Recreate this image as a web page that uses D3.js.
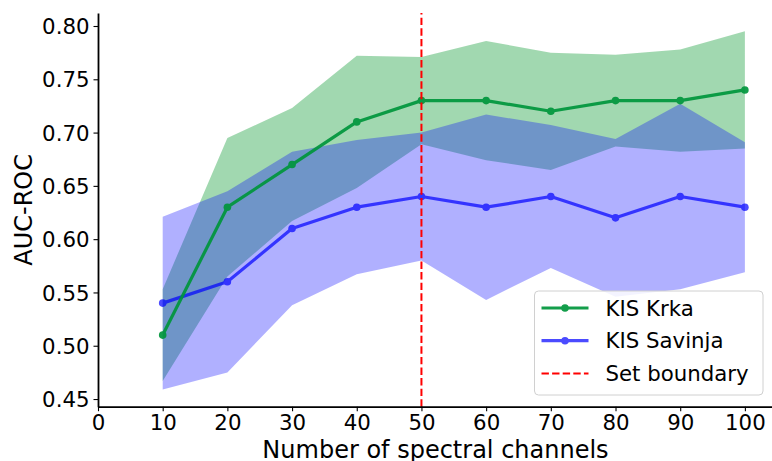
<!DOCTYPE html>
<html>
<head>
<meta charset="utf-8">
<script src="https://cdn.jsdelivr.net/npm/d3@7"></script>
<style>
  html, body { margin: 0; padding: 0; background: #fff; }
  svg { display: block; font-family: "DejaVu Sans", sans-serif; }
</style>
</head>
<body>
<svg id="chart" width="772" height="461"></svg>
<script>
// Number of spectral channels used
const channels = [10, 20, 30, 40, 50, 60, 70, 80, 90, 100];

// Mean AUC-ROC and its spread for each set
const krkaMean = [0.51, 0.63, 0.67, 0.71, 0.73, 0.73, 0.72, 0.73, 0.73, 0.74];
const krkaStd  = [0.043, 0.065, 0.053, 0.062, 0.041, 0.056, 0.055, 0.043, 0.048, 0.055];
const savinjaMean = [0.54, 0.56, 0.61, 0.63, 0.64, 0.63, 0.64, 0.62, 0.64, 0.63];
const savinjaStd  = [0.081, 0.085, 0.072, 0.063, 0.060, 0.087, 0.067, 0.074, 0.087, 0.061];

// Channel count where the set boundary lies
const boundary = 50;

const xTicks = [0, 10, 20, 30, 40, 50, 60, 70, 80, 90, 100];
const yTicks = [0.45, 0.50, 0.55, 0.60, 0.65, 0.70, 0.75, 0.80];

const svg = d3.select("#chart");

const plot = { left: 98, right: 774, top: 13, bottom: 406.7 };

const x = d3.scaleLinear().domain([0, 104.5]).range([plot.left, plot.right]);
const y = d3.scaleLinear().domain([0.4428, 0.8122]).range([plot.bottom, plot.top]);

const series = [
  { name: "KIS Krka", mean: krkaMean, std: krkaStd,
    fill: "rgb(0,150,40)", fillOpacity: 0.37, line: "rgb(0,150,60)", lineOpacity: 0.92 },
  { name: "KIS Savinja", mean: savinjaMean, std: savinjaStd,
    fill: "rgb(0,0,255)", fillOpacity: 0.31, line: "rgb(0,0,255)", lineOpacity: 0.7 }
];

const rows = s => channels.map((c, i) => ({ c, m: s.mean[i], sd: s.std[i] }));

const area = d3.area()
  .x(d => x(d.c))
  .y0(d => y(d.m - d.sd))
  .y1(d => y(d.m + d.sd));

const line = d3.line().x(d => x(d.c)).y(d => y(d.m));

// Shaded bands
series.forEach(s => {
  svg.append("path")
    .datum(rows(s))
    .attr("d", area)
    .attr("fill", s.fill)
    .attr("fill-opacity", s.fillOpacity)
    .attr("stroke", "none");
});

// Mean lines with markers (Savinja first so Krka sits on top)
[series[1], series[0]].forEach(s => {
  const g = svg.append("g").attr("opacity", s.lineOpacity);
  g.append("path")
    .datum(rows(s))
    .attr("d", line)
    .attr("fill", "none")
    .attr("stroke", s.line)
    .attr("stroke-width", 3.2)
    .attr("stroke-linejoin", "round");
  g.selectAll("circle")
    .data(rows(s))
    .join("circle")
    .attr("cx", d => x(d.c))
    .attr("cy", d => y(d.m))
    .attr("r", 3.8)
    .attr("fill", s.line);
});

// Set boundary marker
svg.append("line")
  .attr("x1", x(boundary)).attr("x2", x(boundary))
  .attr("y1", plot.bottom).attr("y2", plot.top)
  .attr("stroke", "#ff0000")
  .attr("stroke-width", 2)
  .attr("stroke-dasharray", "7.4,3.2");

// Axes
const xAxis = d3.axisBottom(x).tickValues(xTicks).tickFormat(d3.format("d"))
  .tickSizeInner(4.5).tickSizeOuter(0).tickPadding(4);
const yAxis = d3.axisLeft(y).tickValues(yTicks).tickFormat(d3.format(".2f"))
  .tickSizeInner(4.5).tickSizeOuter(0).tickPadding(4);

const gx = svg.append("g").attr("transform", `translate(0,${plot.bottom})`).call(xAxis);
const gy = svg.append("g").attr("transform", `translate(${plot.left},0)`).call(yAxis);

[gx, gy].forEach(g => {
  g.select(".domain").attr("stroke", "#000").attr("stroke-width", 1.8);
  g.selectAll(".tick line").attr("stroke", "#000").attr("stroke-width", 1.1);
  g.selectAll(".tick text")
    .attr("fill", "#000")
    .style("font-family", "DejaVu Sans")
    .style("font-size", "21.3px");
});
gx.selectAll(".tick text").attr("dy", "0.71em");
gy.selectAll(".tick text").attr("dy", "0.36em");

// Axis titles
svg.append("text")
  .attr("x", (plot.left + 772) / 2 + 0.5)
  .attr("y", 458)
  .attr("text-anchor", "middle")
  .style("font-size", "24px")
  .attr("fill", "#000")
  .text("Number of spectral channels");

svg.append("text")
  .attr("transform", `translate(32,${(plot.top + plot.bottom) / 2}) rotate(-90)`)
  .attr("text-anchor", "middle")
  .style("font-size", "24px")
  .attr("fill", "#000")
  .text("AUC-ROC");

// Legend
const legend = svg.append("g");
legend.append("rect")
  .attr("x", 534.5).attr("y", 291)
  .attr("width", 228.5).attr("height", 104)
  .attr("rx", 4).attr("ry", 4)
  .attr("fill", "#fff").attr("fill-opacity", 0.85)
  .attr("stroke", "#d0d0d0").attr("stroke-width", 1);

const entries = [
  { label: series[0].name, color: series[0].line, opacity: series[0].lineOpacity, kind: "line" },
  { label: series[1].name, color: series[1].line, opacity: series[1].lineOpacity, kind: "line" },
  { label: "Set boundary", color: "#ff0000", opacity: 1, kind: "dash" }
];

entries.forEach((e, i) => {
  const cy = 308 + i * 32.7;
  const g = legend.append("g").attr("opacity", e.opacity);
  if (e.kind === "line") {
    g.append("line")
      .attr("x1", 541.5).attr("x2", 588.5).attr("y1", cy).attr("y2", cy)
      .attr("stroke", e.color).attr("stroke-width", 3.2);
    g.append("circle").attr("cx", 565).attr("cy", cy).attr("r", 3.8).attr("fill", e.color);
  } else {
    g.append("line")
      .attr("x1", 541.5).attr("x2", 588.5).attr("y1", cy).attr("y2", cy)
      .attr("stroke", e.color).attr("stroke-width", 2)
      .attr("stroke-dasharray", "7.4,3.2");
  }
  legend.append("text")
    .attr("x", 605.5).attr("y", cy)
    .attr("dy", "0.36em")
    .style("font-size", "21.3px")
    .attr("fill", "#000")
    .text(e.label);
});
</script>
</body>
</html>
